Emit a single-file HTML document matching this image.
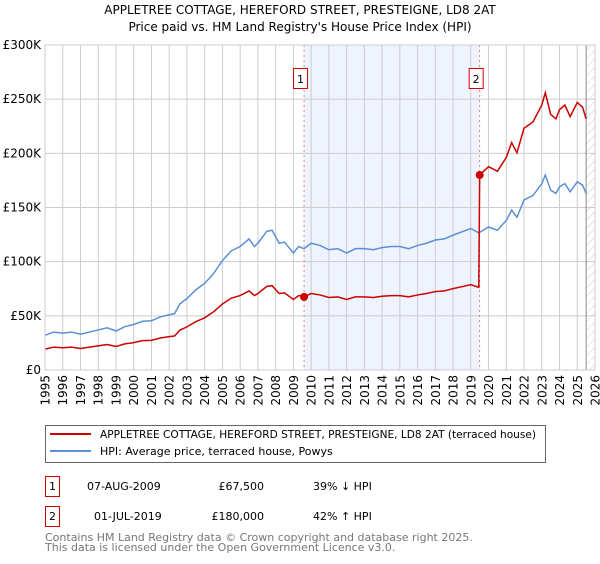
<!DOCTYPE html>
<html><head><meta charset="utf-8"><style>
body{margin:0;background:#fff;font-family:"DejaVu Sans","Liberation Sans",sans-serif;}
svg text{font-family:"DejaVu Sans","Liberation Sans",sans-serif;}
</style></head><body>
<svg id="chart" width="600" height="560" xmlns="http://www.w3.org/2000/svg">
<defs><pattern id="hatch" width="6" height="6" patternUnits="userSpaceOnUse" patternTransform="rotate(45)"><line x1="0" y1="0" x2="0" y2="6" stroke="#ccc" stroke-width="1"/></pattern></defs>
<text x="300" y="14" text-anchor="middle" font-size="12">APPLETREE COTTAGE, HEREFORD STREET, PRESTEIGNE, LD8 2AT</text>
<text x="300" y="31" text-anchor="middle" font-size="12">Price paid vs. HM Land Registry's House Price Index (HPI)</text>
<g id="plot"></g>
<rect x="45.5" y="425.5" width="500" height="37" fill="#fff" stroke="#666"/>
<line x1="50" y1="434" x2="91" y2="434" stroke="#cc0000" stroke-width="2"/>
<text x="100" y="438" font-size="11" textLength="436" lengthAdjust="spacingAndGlyphs">APPLETREE COTTAGE, HEREFORD STREET, PRESTEIGNE, LD8 2AT (terraced house)</text>
<line x1="50" y1="451" x2="91" y2="451" stroke="#5b8fd6" stroke-width="2"/>
<text x="100" y="455" font-size="11">HPI: Average price, terraced house, Powys</text>
<rect x="45.5" y="476.5" width="14" height="20" fill="#fff" stroke="#cc0000"/>
<text x="52.5" y="490" text-anchor="middle" font-size="11">1</text>
<text x="87" y="490" font-size="11">07-AUG-2009</text>
<text x="264" y="490" text-anchor="end" font-size="11">£67,500</text>
<text x="313" y="490" font-size="11">39% ↓ HPI</text>
<rect x="45.5" y="506.5" width="14" height="20" fill="#fff" stroke="#cc0000"/>
<text x="52.5" y="520" text-anchor="middle" font-size="11">2</text>
<text x="94" y="520" font-size="11">01-JUL-2019</text>
<text x="264" y="520" text-anchor="end" font-size="11">£180,000</text>
<text x="313" y="520" font-size="11">42% ↑ HPI</text>
<text x="45" y="541" font-size="11" fill="#777">Contains HM Land Registry data © Crown copyright and database right 2025.</text>
<text x="45" y="551" font-size="11" fill="#777">This data is licensed under the Open Government Licence v3.0.</text>
</svg>
<script>
const hpiYears=[1995,1995.5,1996,1996.5,1997,1997.5,1998,1998.5,1999,1999.5,2000,2000.5,2001,2001.5,2002,2002.3,2002.6,2003,2003.5,2004,2004.5,2005,2005.5,2006,2006.5,2006.8,2007,2007.5,2007.8,2008.2,2008.5,2009,2009.3,2009.6,2010,2010.5,2011,2011.5,2012,2012.5,2013,2013.5,2014,2014.5,2015,2015.5,2016,2016.5,2017,2017.5,2018,2018.5,2019,2019.45,2020,2020.5,2021,2021.3,2021.6,2022,2022.5,2022.8,2023,2023.2,2023.5,2023.8,2024,2024.3,2024.6,2025,2025.3,2025.5];
const hpiValues=[32,35,34,35,33,35,37,39,36,40,42,45,45.5,49,51,52,61,66,74,80,89,101,110,114,121,114,117,128,129,117,118,108,114,112,117,115,111,112,108,112,112,111,113,114,114,112,115,117,120,121,124.5,127.6,130.6,126.6,132,129,138,147.6,141,157,161,167.5,172,180,166,163,169,172,164.5,173.7,170.6,163];
const propYears=[1995,1995.5,1996,1996.5,1997,1997.5,1998,1998.5,1999,1999.5,2000,2000.5,2001,2001.5,2002,2002.3,2002.6,2003,2003.5,2004,2004.5,2005,2005.5,2006,2006.5,2006.8,2007,2007.5,2007.8,2008.2,2008.5,2009,2009.3,2009.6,2010,2010.5,2011,2011.5,2012,2012.5,2013,2013.5,2014,2014.5,2015,2015.5,2016,2016.5,2017,2017.5,2018,2018.5,2019,2019.45,2019.5,2020,2020.5,2021,2021.3,2021.6,2022,2022.5,2022.8,2023,2023.2,2023.5,2023.8,2024,2024.3,2024.6,2025,2025.3,2025.5];
const propValues=[19.3,21.1,20.5,21.1,19.9,21.1,22.3,23.5,21.7,24.1,25.3,27.1,27.4,29.5,30.8,31.4,36.8,39.8,44.6,48.2,53.7,60.9,66.3,68.7,73,68.7,70.6,77.2,77.8,70.6,71.2,65.1,68.7,67.5,70.6,69.3,66.9,67.5,65.1,67.5,67.5,66.9,68.1,68.7,68.7,67.5,69.3,70.6,72.4,73,75.1,76.9,78.8,76.3,180,187.7,183.4,196.2,209.9,200.5,223.2,228.9,238.2,244.6,256,236,231.8,240.3,244.6,233.9,247,242.6,231.8];
const saleYears=[2009.6,2019.5];
const saleValues=[67.5,180];
const saleLabels=["1","2"];
const yTicks=[0,50,100,150,200,250,300];
const yTickLabels=["£0","£50K","£100K","£150K","£200K","£250K","£300K"];
const xTicks=[1995,1996,1997,1998,1999,2000,2001,2002,2003,2004,2005,2006,2007,2008,2009,2010,2011,2012,2013,2014,2015,2016,2017,2018,2019,2020,2021,2022,2023,2024,2025,2026];

const L=45,R=595,T=45,B=370,NS="http://www.w3.org/2000/svg";
const xs=y=>L+(y-1995)/(2026-1995)*(R-L);
const ys=v=>B-v/300*(B-T);
const g=document.getElementById('plot');
function mk(t,a){const e=document.createElementNS(NS,t);for(const k in a)e.setAttribute(k,a[k]);g.appendChild(e);return e;}

let e=mk('rect',{x:xs(saleYears[0]),y:T,width:xs(saleYears[1])-xs(saleYears[0]),height:B-T,fill:'#eef3fd'});


e=mk('rect',{x:xs(2025.5),y:T,width:R-xs(2025.5),height:B-T,fill:'url(#hatch)'});


yTicks.forEach((v,i)=>{
 let l=mk('line',{x1:L,x2:R,y1:ys(v),y2:ys(v),stroke:'#ccc'});
 
 
 let t=mk('text',{x:L-4,y:ys(v)+4,'text-anchor':'end','font-size':'12'});t.textContent=yTickLabels[i];
 
 
});
xTicks.forEach(y=>{
 let l=mk('line',{x1:xs(y),x2:xs(y),y1:T,y2:B,stroke:'#ccc'});
 
 
 let t=mk('text',{x:0,y:0,'text-anchor':'end','font-size':'12',transform:`translate(${xs(y)+4.5},${B+5}) rotate(-90)`});t.textContent=y;
 
 
});
e=mk('line',{x1:xs(2025.5),x2:xs(2025.5),y1:T,y2:B,stroke:'#888'});


saleYears.forEach((y,i)=>{
 let l=mk('line',{x1:xs(y),x2:xs(y),y1:T,y2:B,stroke:'#e06666','stroke-dasharray':'2,3','stroke-width':'0.8'});
 
 
});
e=mk('polyline',{points:hpiYears.map((y,i)=>xs(y)+','+ys(hpiValues[i])).join(' '),fill:'none',stroke:'#5b8fd6','stroke-width':'1.5'});


e=mk('polyline',{points:propYears.map((y,i)=>xs(y)+','+ys(propValues[i])).join(' '),fill:'none',stroke:'#cc0000','stroke-width':'1.5'});


saleYears.forEach((y,i)=>{
 let c=mk('circle',{cx:xs(y),cy:ys(saleValues[i]),r:4,fill:'#cc0000'});
 
 
 let b=mk('rect',{x:xs(y)-10.5,y:68.5,width:14,height:20,fill:'#fff',stroke:'#cc0000'});
 
 
 let t=mk('text',{x:xs(y)-3.5,y:83,'text-anchor':'middle','font-size':'11'});t.textContent=saleLabels[i];
 
 
});
e=mk('rect',{x:L,y:T,width:R-L,height:B-T,fill:'none',stroke:'#ccc'});


</script>
</body></html>
